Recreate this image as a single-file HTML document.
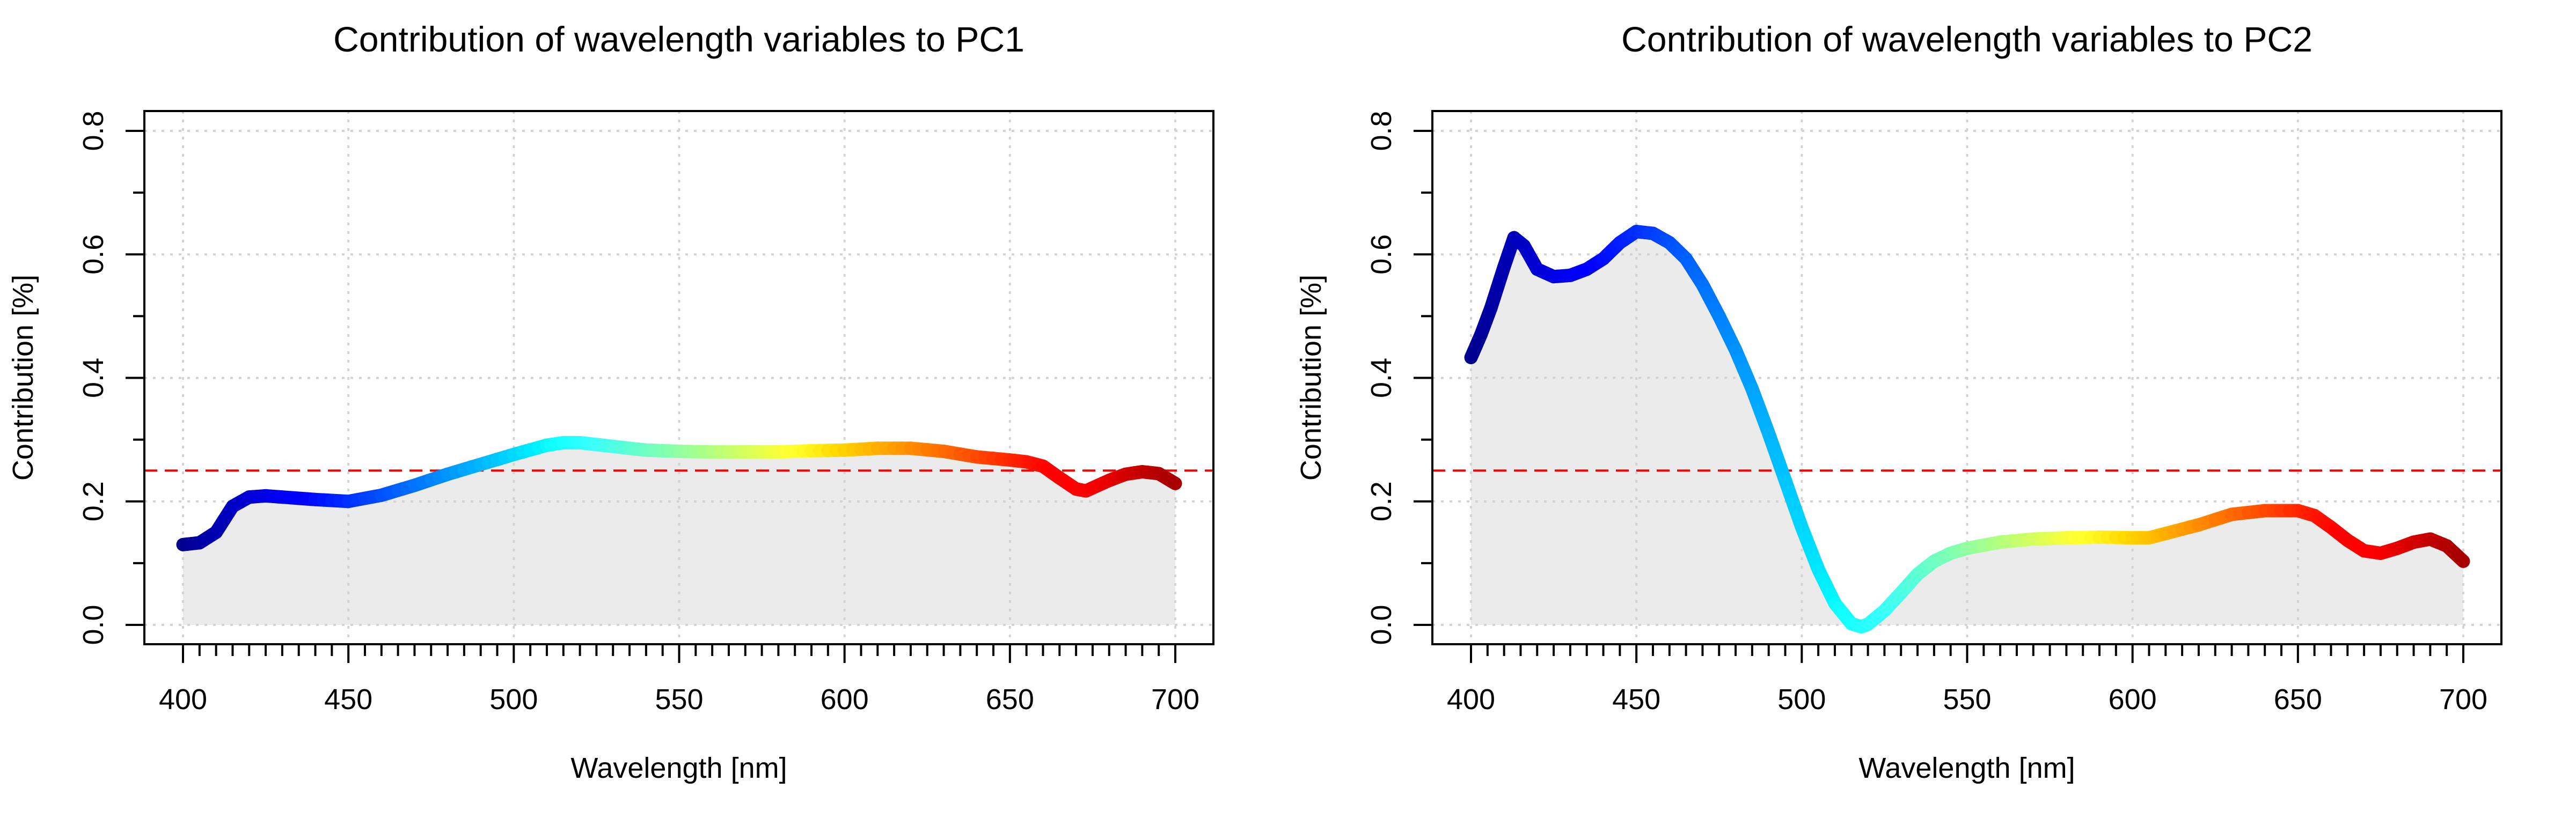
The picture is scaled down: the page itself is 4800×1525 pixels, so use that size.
<!DOCTYPE html>
<html><head><meta charset="utf-8"><style>
html,body{margin:0;padding:0;background:#fff;}
svg{display:block;}
text{font-family:"Liberation Sans",Arial,sans-serif;fill:#000;}
</style></head><body>
<svg id="chart" width="4800" height="1525" viewBox="0 0 4800 1525" xmlns="http://www.w3.org/2000/svg"></svg>
<script>
const pc1Wavelengths = [400,405,410,415,420,425,430,440,450,460,470,480,490,500,510,515,520,530,540,550,560,570,580,590,600,610,620,630,640,650,655,660,665,670,673,680,685,690,695,700];
const pc1Values = [0.130,0.133,0.150,0.192,0.207,0.209,0.207,0.203,0.200,0.210,0.226,0.244,0.260,0.276,0.291,0.295,0.295,0.289,0.283,0.281,0.280,0.280,0.280,0.282,0.283,0.286,0.286,0.281,0.272,0.267,0.264,0.257,0.238,0.220,0.217,0.234,0.244,0.248,0.245,0.229];
const pc2Wavelengths = [400,403,406,410,413,416,420,425,430,435,440,445,450,455,460,465,470,475,480,485,490,495,500,505,510,515,518,520,525,530,535,540,545,550,560,570,580,590,600,605,610,620,630,640,650,655,660,665,670,675,680,685,690,695,700];
const pc2Values = [0.433,0.470,0.513,0.580,0.627,0.614,0.576,0.564,0.566,0.576,0.593,0.619,0.637,0.634,0.619,0.593,0.551,0.500,0.445,0.382,0.310,0.234,0.158,0.090,0.035,0.002,-0.003,0.001,0.023,0.052,0.082,0.103,0.116,0.124,0.134,0.139,0.141,0.142,0.141,0.141,0.148,0.162,0.179,0.185,0.185,0.177,0.158,0.137,0.120,0.116,0.124,0.134,0.139,0.128,0.103];
const xTicks = [400,450,500,550,600,650,700];
const yTicks = [0.0,0.2,0.4,0.6,0.8];
const yTickLabels = ["0.0","0.2","0.4","0.6","0.8"];
const threshold = 0.25;
const titles = ["Contribution of wavelength variables to PC1","Contribution of wavelength variables to PC2"];

const NS="http://www.w3.org/2000/svg";
const svg=document.getElementById('chart');
function mk(tag,attrs,parent){const e=document.createElementNS(NS,tag);for(const k in attrs)e.setAttribute(k,attrs[k]);(parent||svg).appendChild(e);return e;}
function jet(t){const c=v=>Math.round(255*Math.max(0,Math.min(1,v)));return `rgb(${c(1.6-Math.abs(4*t-3.05))},${c(1.5-Math.abs(4*t-2))},${c(1.6-Math.abs(4*t-1.05))})`;}

function panel(off,title,xs,ys,idx){
  const L=269+off,R=2261+off,T=207,B=1201;
  const sx=w=>341+off+(w-400)*(2190-341)/300;
  const sy=v=>1165-v*(1165-244)/0.8;
  const g=mk('g',{});
  
  
  let d=`M${sx(xs[0])},${sy(0)}`;xs.forEach((w,i)=>d+=` L${sx(w)},${sy(ys[i])}`);d+=` L${sx(xs[xs.length-1])},${sy(0)} Z`;
  const a=mk('path',{d:d,fill:'#EBEBEB'},g);
  
  
  xTicks.forEach(w=>{const l=mk('line',{x1:sx(w),x2:sx(w),y1:T,y2:B,stroke:'#D3D3D3','stroke-width':4,'stroke-dasharray':'5 11'},g);
    
    });
  yTicks.forEach(v=>{const l=mk('line',{x1:L,x2:R,y1:sy(v),y2:sy(v),stroke:'#D3D3D3','stroke-width':4,'stroke-dasharray':'5 11'},g);
    
    });
  const th=mk('line',{x1:L,x2:R,y1:sy(threshold),y2:sy(threshold),stroke:'#FF0000','stroke-width':4,'stroke-dasharray':'24 14'},g);
  
  
  const cg=mk('g',{},g);
  
  
  for(let i=0;i<xs.length-1;i++){
    const n=4;
    for(let k=0;k<n;k++){
      const f0=k/n,f1=(k+1)/n;
      const w0=xs[i]+(xs[i+1]-xs[i])*f0,w1=xs[i]+(xs[i+1]-xs[i])*f1;
      const v0=ys[i]+(ys[i+1]-ys[i])*f0,v1=ys[i]+(ys[i+1]-ys[i])*f1;
      const s=mk('line',{x1:sx(w0),y1:sy(v0),x2:sx(w1),y2:sy(v1),stroke:jet(((w0+w1)/2-400)/300),'stroke-width':25,'stroke-linecap':'round'},cg);
      
      
    }
  }
  const bx=mk('rect',{x:L,y:T,width:R-L,height:B-T,fill:'none',stroke:'#000','stroke-width':4},g);
  
  
  for(let w=400;w<=700;w+=5){const major=w%50===0;
    const t=mk('line',{x1:sx(w),x2:sx(w),y1:B,y2:major?1236:1223,stroke:'#000','stroke-width':4},g);
    
    }
  xTicks.forEach(w=>{const t=mk('text',{x:sx(w),y:1322,'font-size':54,'text-anchor':'middle'},g);t.textContent=String(w);
    
    });
  for(let j=0;j<=8;j++){const v=j/10;const major=j%2===0;
    const t=mk('line',{x1:L,x2:major?L-35:L-21,y1:sy(v),y2:sy(v),stroke:'#000','stroke-width':4},g);
    
    }
  yTicks.forEach((v,i)=>{const t=mk('text',{x:0,y:0,'font-size':54,'text-anchor':'middle',transform:`translate(${192+off},${sy(v)}) rotate(-90)`},g);t.textContent=yTickLabels[i];
    
    });
  const tt=mk('text',{x:(L+R)/2,y:96,'font-size':66,'text-anchor':'middle',textLength:1288,lengthAdjust:'spacingAndGlyphs'},g);tt.textContent=title;
  
  
  const xt=mk('text',{x:(L+R)/2,y:1450,'font-size':54,'text-anchor':'middle'},g);xt.textContent='Wavelength [nm]';
  
  
  const yt=mk('text',{x:0,y:0,'font-size':54,'text-anchor':'middle',transform:`translate(${61+off},${(T+B)/2}) rotate(-90)`},g);yt.textContent='Contribution [%]';
  
  
}
panel(0,titles[0],pc1Wavelengths,pc1Values,1);
panel(2400,titles[1],pc2Wavelengths,pc2Values,2);
</script>
</body></html>
